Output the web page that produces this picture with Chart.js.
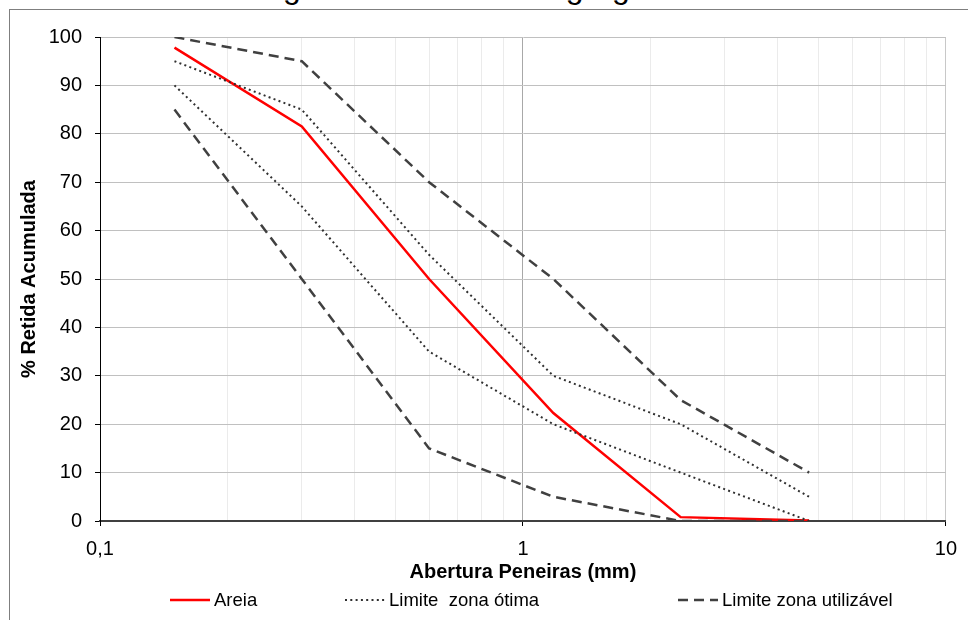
<!DOCTYPE html>
<html>
<head>
<meta charset="utf-8">
<script src="https://cdn.jsdelivr.net/npm/chart.js@4/dist/chart.umd.min.js"></script>
<style>
body { margin: 0; background: #fff; }
#wrap { position: relative; width: 968px; height: 620px; overflow: hidden; font-family: Arial, "Liberation Sans", sans-serif; }
#moldura { position: absolute; left: 9px; top: 9px; width: 2000px; height: 2000px; border: 1.5px solid #7f7f7f; }
#titulo { position: absolute; left: 0; top: -29px; width: 968px; text-align: center; font-size: 32px; line-height: 32px; color: #000; }
#grafico { position: absolute; left: 0; top: 0; }
.item { position: absolute; top: 590px; height: 20px; font-size: 18.5px; line-height: 20px; white-space: pre; color: #000; }
.item svg { position: absolute; left: 0; top: 0; }
.item span { position: absolute; left: 44px; top: 0; }
</style>
</head>
<body>
<div id="wrap">
  <div id="moldura"></div>
  <div id="titulo">Curva granulométrica do agregado miúdo</div>
  <canvas id="grafico" width="968" height="620"></canvas>
  <div id="legenda"></div>
</div>
<script>
// peneiras (mm)
const peneiras = [0.15, 0.3, 0.6, 1.18, 2.36, 4.75];
const areia = [97.8, 81.5, 50, 22.3, 0.8, 0.1];
const otimaInf = [90, 65, 35, 20, 10, 0];
const otimaSup = [95, 85, 55, 30, 20, 5];
const utilInf = [85, 50, 15, 5, 0, 0];
const utilSup = [100, 95, 70, 50, 25, 10];
const xTicks = [0.1, 0.2, 0.3, 0.4, 0.5, 0.6, 0.7, 0.8, 0.9, 1, 2, 3, 4, 5, 6, 7, 8, 9, 10];
const xLabels = {0.1: '0,1', 1: '1', 10: '10'};
const nomes = ['Areia', 'Limite  zona ótima', 'Limite zona utilizável'];

function pontos(valores) {
    return valores.map((v, i) => ({x: peneiras[i], y: v}));
}

const estilos = [
    {borderColor: '#ff0000', borderWidth: 2.5, borderDash: []},
    {borderColor: '#303030', borderWidth: 2, borderDash: [2, 3.3]},
    {borderColor: '#404040', borderWidth: 2.5, borderDash: [10, 6]}
];

const fonte = 'Arial, "Liberation Sans", sans-serif';

new Chart('grafico', {
    type: 'line',
    data: {
        datasets: [
            {label: nomes[2], data: pontos(utilInf), ...estilos[2]},
            {label: nomes[2], data: pontos(utilSup), ...estilos[2]},
            {label: nomes[1], data: pontos(otimaInf), ...estilos[1]},
            {label: nomes[1], data: pontos(otimaSup), ...estilos[1]},
            {label: nomes[0], data: pontos(areia), ...estilos[0]}
        ]
    },
    options: {
        responsive: false,
        animation: false,
        elements: {point: {radius: 0}, line: {tension: 0, borderCapStyle: 'butt'}},
        layout: {padding: {left: 10, right: 22, top: 37, bottom: 36}},
        plugins: {legend: {display: false}, tooltip: {enabled: false}},
        scales: {
            x: {
                type: 'logarithmic',
                min: 0.1,
                max: 10,
                afterBuildTicks: s => { s.ticks = xTicks.map(v => ({value: v})); },
                afterFit: s => { s.height = 63; },
                ticks: {
                    autoSkip: false,
                    maxRotation: 0,
                    padding: 11,
                    color: '#000',
                    font: {family: fonte, size: 20},
                    callback: v => xLabels[v] || ''
                },
                grid: {
                    color: c => c.tick && c.tick.value === 1 ? '#a8a8a8' : (c.tick && c.tick.value === 10 ? '#c8c8c8' : '#ebebeb'),
                    tickColor: c => c.tick && xLabels[c.tick.value] ? '#000' : 'rgba(0,0,0,0)',
                    tickLength: 5
                },
                border: {color: '#404040', width: 2},
                title: {
                    display: true,
                    text: 'Abertura Peneiras (mm)',
                    color: '#000',
                    font: {family: fonte, size: 20, weight: 'bold'},
                    padding: {top: 0, bottom: 0}
                }
            },
            y: {
                min: 0,
                max: 100,
                afterFit: s => { s.width = 90; },
                ticks: {stepSize: 10, padding: 13, color: '#000', font: {family: fonte, size: 20}},
                grid: {color: '#c0c0c0', tickColor: '#000', tickLength: 5},
                border: {color: '#000', width: 1},
                title: {
                    display: true,
                    text: '% Retida Acumulada',
                    color: '#000',
                    font: {family: fonte, size: 20, weight: 'bold'},
                    padding: {top: 7, bottom: 0}
                }
            }
        }
    }
});

// legenda em HTML com as mesmas cores e tracejados
const legPos = [170, 345, 678];
const leg = document.getElementById('legenda');
nomes.forEach((nome, i) => {
    const e = estilos[i];
    const d = document.createElement('div');
    d.className = 'item';
    d.style.left = legPos[i] + 'px';
    d.innerHTML = '<svg width="42" height="20"><line x1="0" y1="10" x2="40" y2="10" stroke="' + e.borderColor +
        '" stroke-width="' + e.borderWidth + '" stroke-dasharray="' + (e.borderDash.join(' ') || 'none') + '"/></svg><span></span>';
    d.querySelector('span').textContent = nome;
    leg.appendChild(d);
});
</script>
</body>
</html>
